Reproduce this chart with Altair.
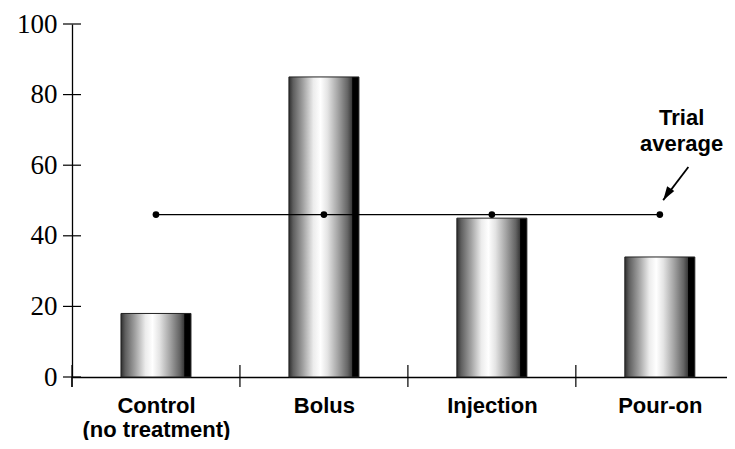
import json
import altair as alt
import pandas as pd

categories = ["Control|(no treatment)", "Bolus", "Injection", "Pour-on"]
values = [18, 85, 45, 34]
trial_average = 46
y_ticks = [0, 20, 40, 60, 80, 100]
note_text = "Trial\naverage"
note_x, note_y = 3.13, 71.4
arrow_x = [3.17, 3.02]
arrow_y = [59.5, 50.1]

pos = list(range(len(categories)))
bars_df = pd.DataFrame({"pos": pos, "cat": categories, "value": values})
avg_df = pd.DataFrame({"pos": pos, "avg": [trial_average] * len(categories)})
edge_df = pd.DataFrame({"edge": [p - 0.5 for p in pos]})
yt_df = pd.DataFrame({"t": y_ticks})
arrow_df = pd.DataFrame({"x1": [arrow_x[0]], "x2": [arrow_x[1]], "y1": [arrow_y[0]], "y2": [arrow_y[1]]})
note_df = pd.DataFrame({"x": [note_x], "y": [note_y], "text": [note_text]})
one_df = pd.DataFrame({"k": [0]})

W, H = 655, 353
xs = alt.Scale(domain=[-0.5, 3.4], nice=False, zero=False, padding=0)
ys = alt.Scale(domain=[0, 100], nice=False, padding=0)

grad = alt.Gradient(
    gradient="linear", x1=0, x2=1, y1=0, y2=0,
    stops=[
        alt.GradientStop(color="#2e2e2e", offset=0),
        alt.GradientStop(color="#5e5e5e", offset=0.06),
        alt.GradientStop(color="#a0a0a0", offset=0.2),
        alt.GradientStop(color="#ececec", offset=0.35),
        alt.GradientStop(color="#ffffff", offset=0.45),
        alt.GradientStop(color="#e4e4e4", offset=0.55),
        alt.GradientStop(color="#a4a4a4", offset=0.7),
        alt.GradientStop(color="#646464", offset=0.84),
        alt.GradientStop(color="#3a3a3a", offset=0.9),
        alt.GradientStop(color="#000000", offset=0.91),
        alt.GradientStop(color="#000000", offset=1),
    ],
)

label_expr = "split(" + json.dumps(categories) + "[datum.value], '|')"

x_axis = alt.Axis(
    values=pos, labelExpr=label_expr, labelAngle=0, ticks=False, grid=False,
    domainColor="black", domainWidth=1.3, labelColor="black",
    labelFont="Liberation Sans", labelFontWeight="bold", labelFontSize=22,
    labelLineHeight=24, labelPadding=35, labelBaseline="alphabetic", labelFlush=False,
    labelOverlap=False,
)
y_axis = alt.Axis(
    values=y_ticks, ticks=False, grid=False, domainColor="black", domainWidth=1.3,
    labelColor="black", labelFont="Liberation Serif", labelFontSize=27, labelPadding=15,
    labelFlush=False, labelOverlap=False,
)

bars = alt.Chart(bars_df).mark_bar(size=70, color=grad, stroke="#222", strokeWidth=1).encode(
    x=alt.X("pos:Q", scale=xs, axis=x_axis, title=None),
    y=alt.Y("value:Q", scale=ys, axis=y_axis, title=None),
)
avg_line = alt.Chart(avg_df).mark_line(color="black", strokeWidth=1.2).encode(
    x=alt.X("pos:Q", scale=xs, title=None), y=alt.Y("avg:Q", scale=ys, title=None)
)
avg_pts = alt.Chart(avg_df).mark_circle(size=45, color="black", opacity=1).encode(
    x=alt.X("pos:Q", scale=xs, title=None), y=alt.Y("avg:Q", scale=ys, title=None)
)
y_tick_rules = alt.Chart(yt_df).mark_rule(color="black", strokeWidth=1.2).encode(
    y=alt.Y("t:Q", scale=ys, title=None), x=alt.value(-9), x2=alt.value(9)
)
x_tick_rules = alt.Chart(edge_df).mark_rule(color="black", strokeWidth=1.2).encode(
    x=alt.X("edge:Q", scale=xs, title=None), y=alt.value(H - 12), y2=alt.value(H + 10)
)
y_ext = alt.Chart(one_df).mark_rule(color="black", strokeWidth=1.3).encode(
    x=alt.value(0), y=alt.value(H), y2=alt.value(H + 10)
)
arrow_shaft = alt.Chart(arrow_df).mark_rule(color="black", strokeWidth=1.8).encode(
    x=alt.X("x1:Q", scale=xs, title=None), x2="x2:Q",
    y=alt.Y("y1:Q", scale=ys, title=None), y2="y2:Q",
)
arrow_head = alt.Chart(arrow_df).mark_point(
    shape="M0,0L0.4,1.3L-0.4,1.3Z", angle=213, filled=True, color="black",
    opacity=1, size=450,
).encode(x=alt.X("x2:Q", scale=xs, title=None), y=alt.Y("y2:Q", scale=ys, title=None))
note = alt.Chart(note_df).mark_text(
    font="Liberation Sans", fontWeight="bold", fontSize=22, lineHeight=26,
    lineBreak="\n", color="black", align="center", baseline="alphabetic"
).encode(
    x=alt.X("x:Q", scale=xs, title=None), y=alt.Y("y:Q", scale=ys, title=None), text="text:N"
)

chart = alt.layer(
    bars, avg_line, avg_pts, y_tick_rules, x_tick_rules, y_ext, arrow_shaft, arrow_head, note
).properties(
    width=W, height=H,
    autosize=alt.AutoSizeParams(type="none"),
    padding={"left": 64, "top": 16, "right": 0, "bottom": 63},
    background="white",
).configure_view(stroke=None)

chart.save("out.html", embed_options={"renderer": "svg", "actions": False})
